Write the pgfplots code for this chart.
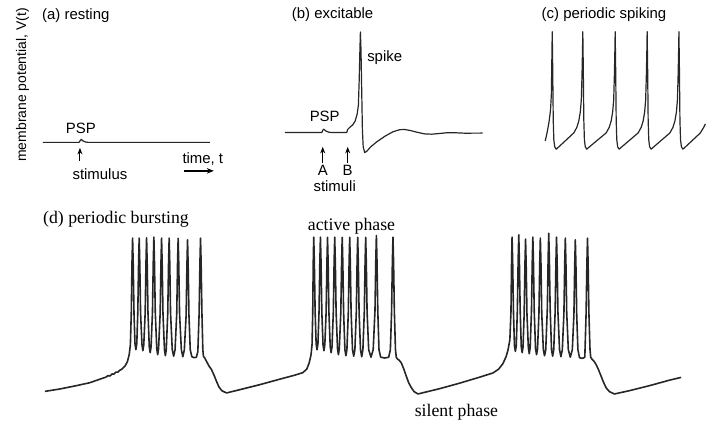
\documentclass[border=0pt]{standalone}
\usepackage{pgfplots}
\pgfplotsset{compat=1.18}
\usepackage{fontspec}
\setmainfont{Liberation Serif}
\newfontfamily\arial{Liberation Sans}
\usetikzlibrary{arrows.meta}
\begin{document}
\begin{tikzpicture}
\begin{axis}[scale only axis, width=706bp, height=423bp,
  xmin=0, xmax=706, ymin=0, ymax=423, y dir=reverse, hide axis, clip=false]
\path (axis cs:0,0) rectangle (axis cs:706,423);
% (a) resting
\addplot[black!85, line width=1.2bp, line join=round, mark=none] coordinates {
(43,142.5) (79,142.5) (80.5,140.5) (81.5,139.5) (83,141) (85,142) (88,142.5) (210,142.5)};
% (b) excitable
\addplot[black!85, line width=1.2bp, line join=round, mark=none] coordinates {
(285,132.7) (322,132.7) (323,130.5) (324,129.3) (326,131) (329,132.3) (332,132.7) (347,132.7)
(348,129.5) (350,127.5) (353,125) (355.5,121) (357.5,114) (358.7,105) (359.5,80) (360.2,50) (360.7,32)
(361.3,50) (362,90) (362.7,130) (363.5,147) (365,152.7) (367,151.5) (371,147) (377,142) (385,136.5)
(393,132) (400,129.8) (405,129.6) (411,130.7) (418,132.5) (425,134) (432,134.3) (440,133.6) (448,132.8)
(456,132.9) (465,133.3) (483,133.2)};
% (c) periodic spiking
\addplot[black!85, line width=1.2bp, line join=round, mark=none] coordinates {
(545.7,141) (547.5,133) (549.5,122) (551,110) (551.8,95) (552.3,60) (552.7,31.7)
(553.2,70) (553.7,120) (554.3,140) (555.2,147) (556.7,149.3) (558.7,147.5) (574.3,133) (577.3,127.5) (579.3,121) (580.8,112) (581.8,100) (582.5,75) (583,50) (583.3,31.7)
(583.8,70) (584.3,120) (584.9,140) (585.8,147) (587.3,149.3) (589.3,147.5) (606.7,133) (609.7,127.5) (611.7,121) (613.2,112) (614.2,100) (614.9,75) (615.4,50) (615.7,31.7)
(616.2,70) (616.7,120) (617.3,140) (618.2,147) (619.7,149.3) (621.7,147.5) (638.7,133) (641.7,127.5) (643.7,121) (645.2,112) (646.2,100) (646.9,75) (647.4,50) (647.7,31.7)
(648.2,70) (648.7,120) (649.3,140) (650.2,147) (651.7,149.3) (653.7,147.5) (670.5,133) (673.5,127.5) (675.5,121) (677,112) (678,100) (678.7,75) (679.2,50) (679.5,31.7)
(680,70) (680.5,120) (681.1,140) (682,147) (683.5,149.3) (685.5,147.5) (701,133) (704,128) (706,124)};
% (d) periodic bursting
\addplot[black!85, line width=1.6bp, line join=round, mark=none] coordinates {
(45,391.7) (60,389.3) (75,386.3) (90,383) (100,379.5) (106,377.5) (108,376) (110,376.3) (112,374.3) (114,374.5) (116,372.5) (118,372.5) (120,370.5) (122,369.5) (125,366.5) (127.5,362) (129.3,355) (130.5,345) (131.4,313) (132.1,263) (132.7,238.3)
(133.3,263.3) (134.1,313.3) (135.1,344) (136,350) (136.9,344) (137.9,313.3) (138.7,263.3) (139.3,238.3) (139.9,263.3) (140.7,313.3) (142.1,345) (143,351) (143.9,345) (145.3,313) (146.1,263) (146.7,238) (147.3,263) (148.1,313) (149.4,347) (150.3,353) (151.2,347) (152.6,312.3) (153.4,262.3) (154,237.3) (154.6,262.3) (155.4,312.3) (156.9,349) (157.8,355) (158.7,349) (160.3,313.3) (161.1,263.3) (161.7,238.3) (162.3,263.3) (163.1,313.3) (164.6,350) (165.5,356) (166.4,350) (167.9,313.3) (168.7,263.3) (169.3,238.3) (169.9,263.3) (170.7,313.3) (172.4,350) (173.8,356.5) (175.2,350) (176.9,313.5) (177.7,263.5) (178.3,238.5) (178.9,263.5) (179.7,313.5) (181.5,350) (183,357) (184.5,350) (186.3,315) (187.1,265) (187.7,240) (188.3,265) (189.1,315) (190.4,350) (192,357) (194.2,358) (196.5,357.5) (198,352) (199.3,313) (200.1,263) (200.7,238.3) (201.3,263.3) (202.1,313.3) (203,350) (203.6,356.7) (205,358.3) (206.7,361.7) (209,366) (211.7,370) (214,375) (216.7,381.7) (219,387) (222,391) (226.7,393.3)
(240,390) (260,385) (280,379.5) (295,375.5) (303,373) (307,369.5) (309.5,363) (311.3,355) (312.3,345) (313,313) (313.5,263) (314,237.3)
(314.6,262.3) (315.4,312.3) (316.4,344) (317.3,350) (318.2,344) (319.3,312.3) (320.1,262.3) (320.7,237.3) (321.3,262.3) (322.1,312.3) (323.3,345) (324.2,351) (325.1,345) (326.4,312.5) (327.2,262.5) (327.8,237.5) (328.4,262.5) (329.2,312.5) (330.5,347) (331.4,353) (332.3,347) (333.6,312.3) (334.4,262.3) (335,237.3) (335.6,262.3) (336.4,312.3) (337.8,349) (338.7,355) (339.6,349) (341.1,312.5) (341.9,262.5) (342.5,237.5) (343.1,262.5) (343.9,312.5) (345.2,350) (346.2,356) (347.2,350) (348.6,312.5) (349.4,262.5) (350,237.5) (350.6,262.5) (351.4,312.5) (352.8,350) (354,356.5) (355.2,350) (356.6,312.5) (357.4,262.5) (358,237.5) (358.6,262.5) (359.4,312.5) (360.8,350) (362,357) (363.2,350) (364.6,312.5) (365.4,262.5) (366,237.5) (366.6,262.5) (367.4,312.5) (369,350) (371.3,357.5) (373.5,350) (375.3,310.7) (376.1,260.7) (376.7,235.7) (377.3,260.7) (378.1,310.7) (379.3,350) (381,357.5) (385,358.3) (389,357.5) (390.7,350) (391.9,312.3) (392.7,262.3) (393.3,237.3) (393.9,262.3) (394.7,312.3) (395.8,350) (396.6,357.5) (397.7,359.3) (399.5,360.5) (401.7,363.3) (404,369) (406.7,376.7) (409,383) (411.7,388) (414.5,392) (418.3,394.3)
(440,389) (460,383.5) (480,377.5) (493.3,373.3) (499,369.5) (503.3,364) (506.5,357) (508.5,350) (510.3,340) (511.4,312) (512,262) (512.5,237.3)
(513.1,262.3) (513.9,312.3) (514.9,346) (515.8,351.7) (516.7,346) (517.8,310) (518.6,260) (519.2,235) (519.8,260) (520.6,310) (521.7,347) (522.6,353) (523.5,347) (524.6,314.3) (525.4,264.3) (526,239.3) (526.6,264.3) (527.4,314.3) (528.8,348) (529.7,354) (530.6,348) (531.9,312.3) (532.7,262.3) (533.3,237.3) (533.9,262.3) (534.7,312.3) (536,349) (537,355) (538,349) (539.4,313.3) (540.2,263.3) (540.8,238.3) (541.4,263.3) (542.2,313.3) (543.8,350) (545,356) (546.2,350) (547.8,308.5) (548.6,258.5) (549.2,233.5) (549.8,258.5) (550.6,308.5) (552,350) (553.1,356.5) (554.2,350) (555.6,312.3) (556.4,262.3) (557,237.3) (557.6,262.3) (558.4,312.3) (560,350) (561.4,357) (562.8,350) (564.4,313.3) (565.2,263.3) (565.8,238.3) (566.4,263.3) (567.2,313.3) (568.8,350) (570.8,357.5) (572.8,350) (574.4,315) (575.2,265) (575.8,240) (576.4,265) (577.2,315) (578.4,350) (580,358) (583,358.7) (585.3,357.5) (586.6,313.3) (587.4,263.3) (588,238.3) (588.6,263.3) (589.4,313.3) (590.5,350) (591.2,357.5) (592.5,359.5) (594.5,361.5) (596.7,365) (599,370) (601.7,376.7) (604,382.5) (606.7,388.3) (610,392) (615,394.3)
(630,391) (650,386) (670,380.5) (681.7,377.7)};
% arrows
\draw[-{Stealth[length=6.5bp,width=5bp]}, line width=1.1bp] (axis cs:80,161) -- (axis cs:80,148);
\draw[-{Stealth[length=7bp,width=5.5bp]}, line width=1.4bp] (axis cs:184,171) -- (axis cs:214,171);
\draw[-{Stealth[length=6.5bp,width=5bp]}, line width=1.1bp] (axis cs:323,163) -- (axis cs:323,147);
\draw[-{Stealth[length=6.5bp,width=5bp]}, line width=1.1bp] (axis cs:348,163) -- (axis cs:348,147);
% sans texts
\begin{scope}[every node/.style={inner sep=0pt, font=\arial\fontsize{15}{18}\selectfont}]
\node[anchor=base west] at (axis cs:42,19.5) {(a) resting};
\node[anchor=base] at (axis cs:81,133.3) {PSP};
\node[anchor=base] at (axis cs:100,180) {stimulus};
\node[anchor=base] at (axis cs:203,163.5) {time, t};
\node[anchor=base west] at (axis cs:292,19) {(b) excitable};
\node[anchor=base] at (axis cs:385,61.7) {spike};
\node[anchor=base] at (axis cs:325,121.7) {PSP};
\node[anchor=base] at (axis cs:323,176) {A};
\node[anchor=base] at (axis cs:348,176) {B};
\node[anchor=base] at (axis cs:335,191.7) {stimuli};
\node[anchor=base west] at (axis cs:542,19) {(c) periodic spiking};
\node[rotate=90, font=\arial\fontsize{14}{17}\selectfont] at (axis cs:22.5,85) {membrane potential, V(t)};
\end{scope}
% serif texts
\begin{scope}[every node/.style={inner sep=0pt, font=\fontsize{17.8}{21}\selectfont}]
\node[anchor=base west] at (axis cs:43,224) {(d) periodic bursting};
\node[anchor=base west] at (axis cs:308,231) {active phase};
\node[anchor=base west] at (axis cs:415,416.7) {silent phase};
\end{scope}
\end{axis}
\end{tikzpicture}
\end{document}
